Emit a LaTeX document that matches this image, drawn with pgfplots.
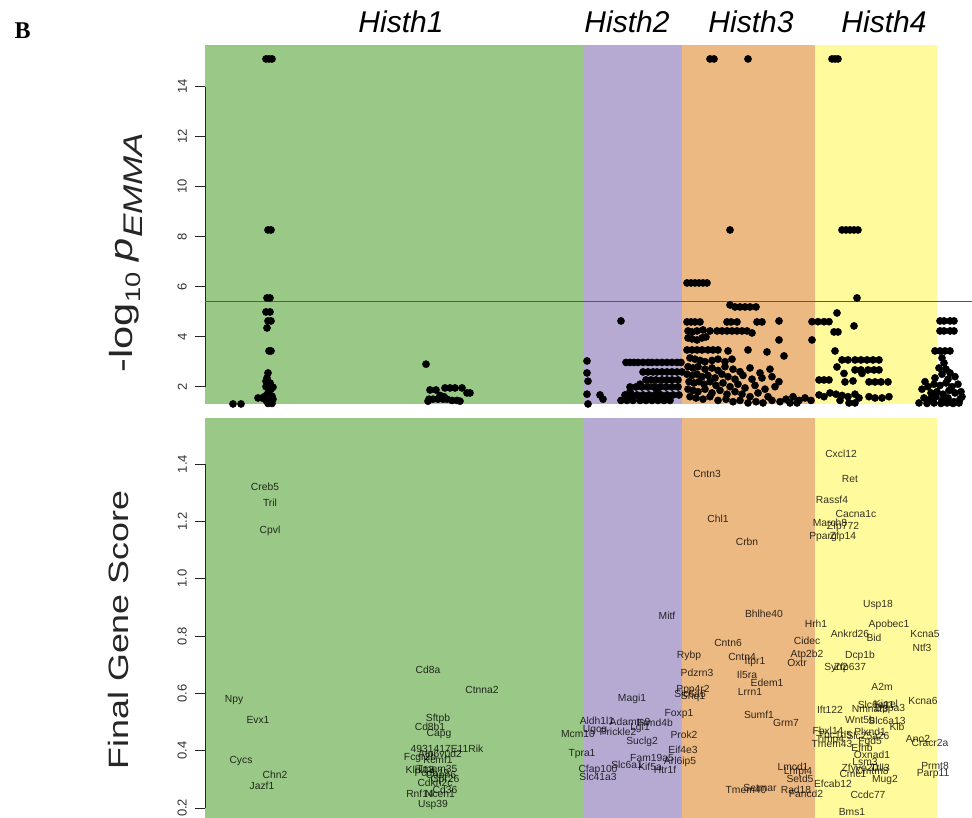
\documentclass[border=0pt]{standalone}
\usepackage{fontspec}
\setmainfont{Liberation Sans}
\newfontfamily\seriffont{Liberation Serif}
\usepackage{graphicx}
\usepackage{pgfplots}
\pgfplotsset{compat=1.18}
\definecolor{cG}{HTML}{9AC886}
\definecolor{cP}{HTML}{B6AAD2}
\definecolor{cO}{HTML}{ECB982}
\definecolor{cY}{HTML}{FFFA9B}
\pgfplotsset{
  rstyle/.style={
    scale only axis, anchor=south west, width=767pt,
    xmin=205, xmax=972, clip=false,
    axis line style={draw=none}, xtick=\empty, ytick pos=left,
    tick align=outside, major tick length=10pt,
    tick style={black!85, line width=0.6pt},
    yticklabel style={xshift=-8pt, rotate=90, anchor=south, inner sep=0pt, font=\fontsize{13}{13}\selectfont, text=black!80},
    /pgf/number format/assume math mode=true,
  },
  genes/.style={only marks, mark=none, nodes near coords, nodes near coords align={center},
    point meta=explicit symbolic,
    every node near coord/.style={font=\fontsize{10.3}{10.3}\selectfont, text=black, text opacity=0.8, inner sep=0pt, anchor=center}},
}
\begin{document}
\begin{tikzpicture}
\path[use as bounding box] (0,0) rectangle (972pt,818pt);
\node[anchor=base west, font=\seriffont\bfseries\fontsize{24}{24}\selectfont] at (11pt,779pt) {B};
\node[anchor=base, font=\fontsize{30}{30}\selectfont\itshape] at (401pt,785pt) {Histh1};
\node[anchor=base, font=\fontsize{30}{30}\selectfont\itshape] at (627pt,785pt) {Histh2};
\node[anchor=base, font=\fontsize{30}{30}\selectfont\itshape] at (751pt,785pt) {Histh3};
\node[anchor=base, font=\fontsize{30}{30}\selectfont\itshape] at (884pt,785pt) {Histh4};
% ---------------- top panel
\begin{axis}[rstyle, at={(205pt,414pt)}, height=359pt,
  ymin=1.308, ymax=15.668, ytick={2,4,6,8,10,12,14},
  ylabel={\scalebox{1.3}[1]{\fontsize{32}{32}\selectfont -log\raisebox{-0.25em}{\fontsize{21}{21}\selectfont 10} \textit{p}\raisebox{-0.3em}{\fontsize{27}{27}\selectfont\textit{EMMA}}}},
  every axis y label/.style={at={(rel axis cs:0,0.5)}, xshift=-79pt, yshift=-28pt, rotate=90, anchor=center, text=black!85},
]
\addplot[draw=none, fill=cG] coordinates {(205,1.308) (205,15.668) (583,15.668) (583,1.308)} -- cycle;
\addplot[draw=none, fill=cP] coordinates {(583,1.308) (583,15.668) (682,15.668) (682,1.308)} -- cycle;
\addplot[draw=none, fill=cO] coordinates {(682,1.308) (682,15.668) (815,15.668) (815,1.308)} -- cycle;
\addplot[draw=none, fill=cY] coordinates {(815,1.308) (815,15.668) (937,15.668) (937,1.308)} -- cycle;
\addplot[black!85, line width=0.6pt] coordinates {(205,2) (205,14)};
\addplot[black!65, line width=1.2pt] coordinates {(205,5.4) (972,5.4)};
\addplot[only marks, mark=*, mark size=3.6pt, black] coordinates {
(266,15.11)(269,15.11)(272,15.11)(268,8.27)(271,8.27)(267,5.55)(270,5.55)(266,4.99)(270,4.99)
(268,4.63)(271,4.63)(267,4.35)(269,3.43)(271,3.43)
(268,2.55)(267,2.35)(270,2.15)(266,2.0)(271,1.9)(268,1.75)(265,1.62)(272,1.62)(258,1.55)(262,1.55)
(266,1.45)(270,1.42)(273,1.5)(268,1.33)(272,1.33)(269,2.05)(273,1.98)(266,2.22)
(233,1.31)(241,1.31)
(426,2.9)(430,1.87)(436,1.87)(445,1.95)(450,1.95)(455,1.95)(462,1.95)(467,1.75)(470,1.75)
(429,1.5)(433,1.5)(438,1.5)(443,1.5)(447,1.5)(452,1.45)(457,1.45)(428,1.42)(460,1.42)(444,1.6)(440,1.65)
(587,3.03)(587,2.55)(588,2.22)(587,1.7)(588,1.31)(600,1.67)(603,1.5)(621,4.63)
(626,2.97)(630,2.97)(634,2.97)(638,2.97)(643,2.97)(648,2.97)(652,2.97)(657,2.97)(662,2.97)(667,2.97)(672,2.97)(677,2.97)(681,2.97)
(643,2.59)(648,2.59)(653,2.59)(657,2.59)(662,2.59)(667,2.59)(672,2.59)(677,2.59)(682,2.59)
(646,2.27)(651,2.27)(656,2.27)(662,2.27)(667,2.27)(672,2.27)(678,2.27)
(630,1.99)(636,1.99)(642,1.99)(648,1.99)(654,1.99)(660,1.99)(666,1.99)(672,1.99)(678,1.99)
(625,1.67)(631,1.67)(637,1.67)(643,1.67)(649,1.67)(655,1.67)(661,1.67)(667,1.67)(673,1.67)(679,1.67)
(621,1.45)(627,1.45)(633,1.45)(640,1.45)(646,1.45)(652,1.45)(658,1.45)(664,1.45)(670,1.45)
(630,1.8)(657,1.85)(640,2.1)
(710,15.11)(714,15.11)(748,15.11)(730,8.27)
(687,6.15)(691,6.15)(695,6.15)(699,6.15)(703,6.15)(707,6.15)
(730,5.27)(735,5.19)(740,5.19)(745,5.19)(750,5.19)(756,5.19)
(687,4.59)(691,4.59)(695,4.59)(700,4.59)(727,4.59)(731,4.59)(737,4.59)(757,4.59)(762,4.59)(779,4.63)
(688,4.23)(692,4.19)(697,4.23)(703,4.27)(710,4.23)(717,4.23)(722,4.23)(727,4.23)(732,4.23)(737,4.23)(742,4.23)(747,4.23)(752,4.15)
(688,3.95)(692,3.91)(697,3.87)(702,3.95)(706,3.99)
(687,3.47)(692,3.47)(697,3.47)(702,3.47)(708,3.47)(713,3.47)(718,3.47)(728,3.43)(748,3.47)(767,3.39)(779,3.87)
(690,3.15)(695,3.1)(700,3.05)(705,3.0)(712,3.05)(718,3.1)(725,3.0)(732,3.1)
(688,2.8)(693,2.75)(698,2.8)(705,2.7)(712,2.75)(718,2.65)(725,2.8)(733,2.7)(740,2.6)(750,2.75)(760,2.55)(770,2.7)
(687,2.5)(692,2.45)(697,2.5)(702,2.4)(708,2.45)(715,2.35)(722,2.5)(728,2.4)(735,2.3)(743,2.45)(752,2.3)(762,2.35)(772,2.4)
(689,2.2)(694,2.15)(699,2.2)(704,2.1)(710,2.2)(716,2.05)(723,2.15)(730,2.0)(738,2.1)(745,1.95)(755,2.05)(765,1.9)(775,2.0)
(688,1.9)(693,1.85)(698,1.8)(705,1.9)(712,1.75)(720,1.85)(727,1.7)(735,1.8)(742,1.7)(750,1.6)(758,1.75)(768,1.6)
(690,1.6)(696,1.55)(703,1.5)(710,1.6)(718,1.45)(726,1.5)(733,1.4)(740,1.45)(748,1.35)(756,1.4)(763,1.35)(772,1.45)(780,1.4)
(786,1.5)(793,1.6)(799,1.45)(805,1.55)(811,1.45)(797,1.35)(790,1.35)
(779,2.2)(784,3.23)(812,4.6)(818,4.6)(824,4.6)(829,4.6)(812,3.87)
(832,15.11)(835,15.11)(838,15.11)
(842,8.27)(846,8.27)(850,8.27)(854,8.27)(858,8.27)
(857,5.55)(837,4.95)(854,4.43)(834,4.19)(838,4.19)(835,3.43)
(842,3.07)(848,3.07)(855,3.07)(861,3.07)(867,3.07)(873,3.07)(879,3.07)
(837,2.79)(855,2.67)(861,2.67)(868,2.67)(874,2.67)(879,2.67)(844,2.53)(862,2.53)
(819,2.27)(824,2.27)(829,2.27)(845,2.19)(853,2.23)(869,2.19)(875,2.19)(881,2.19)(888,2.19)
(830,1.75)(836,1.7)(842,1.65)(848,1.6)(855,1.7)(859,1.55)(869,1.6)(875,1.55)(882,1.55)(889,1.6)(849,1.35)(855,1.35)(840,1.45)
(819,1.67)(824,1.6)
(940,4.63)(944,4.63)(950,4.63)(954,4.63)(940,4.23)(944,4.23)(950,4.23)(954,4.23)
(935,3.43)(940,3.43)(945,3.43)(950,3.43)(942,3.15)(944,2.95)
(939,2.75)(946,2.7)(950,2.55)(942,2.5)(935,2.35)(925,2.2)(955,2.4)(948,2.3)
(922,1.9)(928,2.0)(934,2.1)(940,2.05)(946,2.15)(952,2.0)(958,2.1)(931,1.75)(937,1.8)(943,1.7)(949,1.85)(955,1.75)(961,1.8)
(924,1.55)(930,1.5)(936,1.6)(942,1.45)(948,1.55)(954,1.4)(960,1.5)(919,1.35)(927,1.33)(934,1.35)(941,1.33)(947,1.35)(953,1.33)(959,1.35)(962,1.6)
};
\end{axis}
% ---------------- bottom panel
\begin{axis}[rstyle, at={(205pt,0pt)}, height=400pt,
  ymin=0.165, ymax=1.5606, ytick={0.2,0.4,0.6,0.8,1.0,1.2,1.4},
  yticklabel style={/pgf/number format/fixed, /pgf/number format/fixed zerofill, /pgf/number format/precision=1},
  ylabel={\scalebox{1.28}[1]{\fontsize{28}{28}\selectfont Final Gene Score}},
  every axis y label/.style={at={(rel axis cs:0,0.5)}, xshift=-87pt, yshift=-12pt, rotate=90, anchor=center, text=black!85},
]
\addplot[draw=none, fill=cG] coordinates {(205,0.165) (205,1.5606) (583,1.5606) (583,0.165)} -- cycle;
\addplot[draw=none, fill=cP] coordinates {(583,0.165) (583,1.5606) (682,1.5606) (682,0.165)} -- cycle;
\addplot[draw=none, fill=cO] coordinates {(682,0.165) (682,1.5606) (815,1.5606) (815,0.165)} -- cycle;
\addplot[draw=none, fill=cY] coordinates {(815,0.165) (815,1.5606) (937,1.5606) (937,0.165)} -- cycle;
\addplot[black!85, line width=0.6pt] coordinates {(205,0.2) (205,1.4)};
\addplot[genes] table[x=x, y=y, meta=g] {
x y g
265 1.320 Creb5
270 1.264 Tril
270 1.166 Cpvl
234 0.576 Npy
258 0.506 Evx1
241 0.363 Cycs
275 0.314 Chn2
262 0.276 Jazf1
428 0.681 Cd8a
482 0.611 Ctnna2
438 0.510 Sftpb
430 0.482 Cd8b1
439 0.458 Capg
447 0.405 4931417E11Rik
420 0.374 Fcgr2b
440 0.384 Atp6v0d2
438 0.368 Kcmf1
420 0.332 Klhl13
437 0.335 Tmem35
432 0.322 Pcdh19
441 0.312 Capn6
445 0.298 Gpr26
435 0.286 Cdkn2c
445 0.262 Cd36
420 0.248 Rnf14
440 0.248 Nceh1
433 0.210 Usp39
632 0.580 Magi1
597 0.503 Aldh1l1
630 0.499 Adamts9
655 0.496 Frmd4b
640 0.479 Lgi1
595 0.472 Ugcg
618 0.465 Prickle2
578 0.458 Mcm10
642 0.430 Suclg2
582 0.388 Tpra1
652 0.374 Fam19a5
627 0.352 Slc6a1
650 0.345 Kif5a
665 0.332 Htr1f
598 0.332 Cfap100
598 0.307 Slc41a3
707 1.365 Cntn3
718 1.208 Chl1
747 1.128 Crbn
667 0.869 Mitf
764 0.876 Bhlhe40
728 0.775 Cntn6
807 0.782 Cidec
816 0.842 Hrh1
689 0.730 Rybp
742 0.727 Cntn4
755 0.710 Itpr1
807 0.733 Atp2b2
797 0.707 Oxtr
697 0.671 Pdzrn3
747 0.664 Il5ra
767 0.636 Edem1
750 0.604 Lrrn1
693 0.612 Ppp4r2
690 0.598 Slc6a6
693 0.588 Shq1
679 0.527 Foxp1
759 0.524 Sumf1
786 0.496 Grm7
684 0.454 Prok2
683 0.402 Eif4e3
680 0.360 Arl6ip5
793 0.342 Lmcd1
798 0.325 Lhfpl4
800 0.300 Setd5
760 0.269 Setmar
746 0.262 Tmem40
796 0.262 Rad18
806 0.250 Fancd2
841 1.435 Cxcl12
850 1.348 Ret
832 1.274 Rassf4
856 1.225 Cacna1c
830 1.194 March8
843 1.180 Zfp772
823 1.145 Pparg
843 1.145 Zfp14
878 0.908 Usp18
889 0.838 Apobec1
850 0.807 Ankrd26
925 0.807 Kcna5
874 0.793 Bid
922 0.758 Ntf3
860 0.730 Dcp1b
836 0.688 Syn2
850 0.688 Zfp637
882 0.622 A2m
923 0.573 Kcna6
830 0.541 Ift122
876 0.560 Slc6a11
886 0.562 Kirrel
870 0.545 Nmnat3
890 0.545 Dppa3
860 0.506 Wnt5b
887 0.503 Slc6a13
897 0.482 Klb
918 0.440 Ano2
930 0.426 Cracr2a
828 0.470 Fbxl14
835 0.455 Tbc1d5
830 0.437 Timp4
832 0.425 Tmem43
870 0.465 Plxnd1
868 0.450 Slc25a26
870 0.430 Fgd5
862 0.410 Efhb
872 0.385 Oxnad1
865 0.360 Lsm3
860 0.335 Zfyve20
872 0.330 Cmtm8
853 0.320 Cmc1
880 0.340 Ttll3
935 0.346 Prmt8
933 0.318 Parp11
885 0.297 Mug2
833 0.283 Efcab12
868 0.245 Ccdc77
852 0.185 Bms1
};
\end{axis}
\end{tikzpicture}
\end{document}
